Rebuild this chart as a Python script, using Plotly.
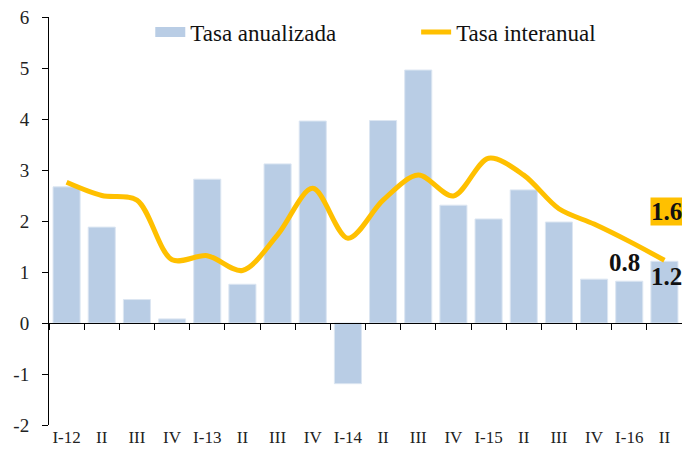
import plotly.graph_objects as go

labels = ["I-12", "II", "III", "IV", "I-13", "II", "III", "IV", "I-14", "II",
          "III", "IV", "I-15", "II", "III", "IV", "I-16", "II"]
tasa_anualizada = [2.67, 1.88, 0.46, 0.08, 2.82, 0.76, 3.12, 3.96, -1.19, 3.97,
                   4.96, 2.31, 2.04, 2.61, 1.98, 0.86, 0.82, 1.21]
tasa_interanual = [2.76, 2.50, 2.41, 1.24, 1.32, 1.03, 1.73, 2.64, 1.66, 2.41,
                   2.90, 2.49, 3.23, 2.90, 2.24, 1.94, 1.60, 1.23]
y_ticks = [-2, -1, 0, 1, 2, 3, 4, 5, 6]
y_tick_text = ["-2", "-1", "0", "1", "2", "3", "4", "5", "6"]

xs = list(range(len(labels)))
FONT = "Liberation Serif"
BAR_COLOR = "#B9CDE5"
LINE_COLOR = "#FFC000"

fig = go.Figure()
fig.add_trace(go.Bar(
    x=xs, y=tasa_anualizada, name="Tasa anualizada",
    marker=dict(color=BAR_COLOR, line=dict(color="#DCE6F2", width=1)),
    width=0.77, showlegend=False,
))
# legend swatch (wide rectangle) for the bar series
fig.add_trace(go.Scatter(
    x=[None], y=[None], name="Tasa anualizada", mode="lines",
    line=dict(color=BAR_COLOR, width=13), legend="legend", hoverinfo="skip",
))
fig.add_trace(go.Scatter(
    x=xs, y=tasa_interanual, name="Tasa interanual", mode="lines",
    line=dict(color=LINE_COLOR, width=5, shape="spline", smoothing=0.9),
    legend="legend2",
))
# helper trace for the zero-line axis with boundary ticks
fig.add_trace(go.Scatter(
    x=[-0.5, len(labels) - 0.5], y=[None, None], xaxis="x2", mode="lines",
    showlegend=False, hoverinfo="skip",
))

# annotations
fig.add_annotation(x=16, y=tasa_anualizada[16], text="<b>0.8</b>", showarrow=False,
                   yanchor="bottom", yshift=3, xshift=-5,
                   font=dict(family=FONT, size=25, color="#111"))
fig.add_annotation(x=17, y=tasa_anualizada[17], text="<b>1.2</b>", showarrow=False,
                   yanchor="top", yshift=0, xshift=2,
                   font=dict(family=FONT, size=25, color="#111"))
fig.add_annotation(x=17, y=tasa_interanual[16], text="<b>1.6</b>", showarrow=False,
                   yanchor="middle", yshift=30, xshift=2,
                   bgcolor=LINE_COLOR, borderpad=0,
                   font=dict(family=FONT, size=25, color="#111"))

fig.update_layout(
    width=682, height=458,
    margin=dict(l=49, r=0, t=17, b=33, autoexpand=False),
    paper_bgcolor="white", plot_bgcolor="white",
    font=dict(family=FONT, size=18, color="#222"),
    bargap=0.23,
    showlegend=True,
    legend=dict(x=0.16, y=0.963, xanchor="left", yanchor="middle",
                orientation="h", bgcolor="rgba(0,0,0,0)",
                font=dict(family=FONT, size=23, color="#111")),
    legend2=dict(x=0.58, y=0.963, xanchor="left", yanchor="middle",
                 orientation="h", bgcolor="rgba(0,0,0,0)",
                 font=dict(family=FONT, size=23, color="#111")),
    xaxis=dict(range=[-0.5, len(labels) - 0.5], tickvals=xs, ticktext=labels,
               showline=False, ticks="", showgrid=False, zeroline=False,
               automargin=False,
               tickfont=dict(family=FONT, size=17, color="#222")),
    xaxis2=dict(range=[-0.5, len(labels) - 0.5], overlaying="x", anchor="free",
                position=0.25, showline=True, linecolor="black", linewidth=1,
                ticks="outside", ticklen=6, tickcolor="black",
                tickvals=[i - 0.5 for i in range(len(labels) + 1)],
                showticklabels=False, showgrid=False, zeroline=False,
                automargin=False),
    yaxis=dict(range=[-2, 6], tickvals=y_ticks, ticktext=y_tick_text,
               showline=True, linecolor="black",
               linewidth=1, ticks="outside", ticklen=6, tickcolor="black",
               showgrid=False, zeroline=False, ticklabelstandoff=9,
               automargin=False,
               tickfont=dict(family=FONT, size=19, color="#222")),
)

fig.write_html("out.html", config={"displayModeBar": False},
               post_script="document.body.style.margin='0';")
